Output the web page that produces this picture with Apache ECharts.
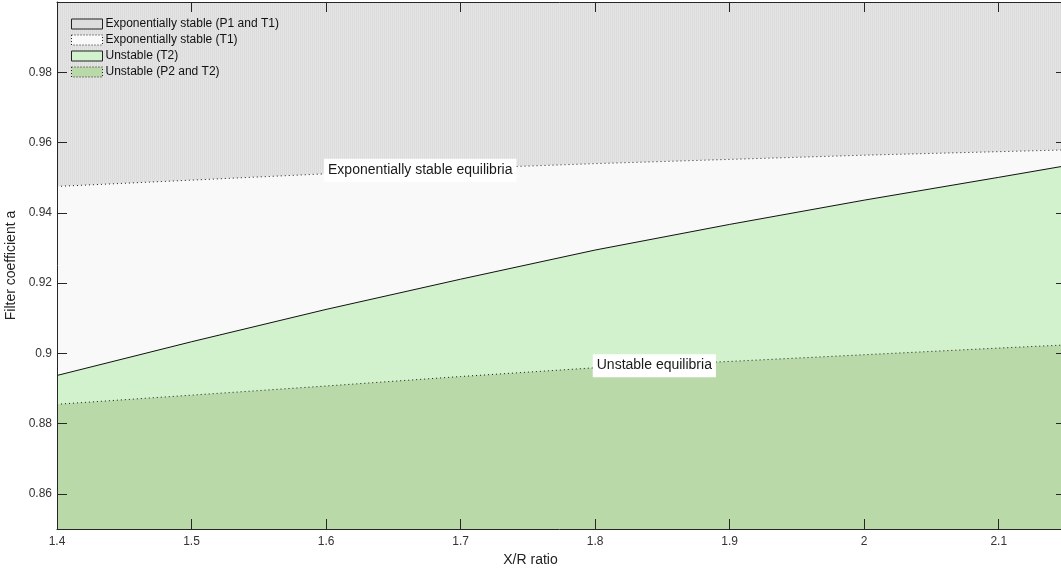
<!DOCTYPE html>
<html>
<head>
<meta charset="utf-8">
<script src="https://cdn.jsdelivr.net/npm/echarts@6/dist/echarts.min.js"></script>
<style>
html,body{margin:0;padding:0;background:#fff;}
#main{width:1061px;height:571px;}
</style>
</head>
<body>
<div id="main"></div>
<script>
// X/R ratio sample points
var xrRatio = [1.4, 1.5, 1.6, 1.7, 1.8, 1.9, 2.0, 2.1, 2.15];
// Upper dotted boundary (T1 exponential stability limit)
var boundaryT1 = [0.9475, 0.9493, 0.9511, 0.9526, 0.9540, 0.9552, 0.9564, 0.9574, 0.9579];
// Solid boundary (P1 / T2)
var boundaryP1 = [0.8937, 0.9033, 0.9125, 0.9211, 0.9294, 0.9367, 0.9436, 0.9501, 0.9534];
// Lower dotted boundary (P2 and T2)
var boundaryP2 = [0.8855, 0.8881, 0.8907, 0.8934, 0.8959, 0.8977, 0.8996, 0.9015, 0.9024];

var legendNames = ['Exponentially stable (P1 and T1)', 'Exponentially stable (T1)', 'Unstable (T2)', 'Unstable (P2 and T2)'];
var annotationTexts = ['Exponentially stable equilibria', 'Unstable equilibria'];
var annotationX = [1.670, 1.844];
var annotationY = [0.9521, 0.8965];

var xTicks = [1.4, 1.5, 1.6, 1.7, 1.8, 1.9, 2.0, 2.1];
var yTicks = [0.86, 0.88, 0.90, 0.92, 0.94, 0.96, 0.98];

function pairs(ys) { return xrRatio.map(function (x, i) { return [x, ys[i]]; }); }

// hatch pattern for gray region
var pc = document.createElement('canvas');
pc.width = 2; pc.height = 4;
var pctx = pc.getContext('2d');
pctx.fillStyle = '#dcdcdc'; pctx.fillRect(0, 0, 2, 4);
pctx.fillStyle = '#e4e4e4'; pctx.fillRect(1, 0, 1, 4);
var grayPattern = { image: pc, repeat: 'repeat' };

var FONT = 'Liberation Sans, Arial, Helvetica, sans-serif';
var chart = echarts.init(document.getElementById('main'), null, { renderer: 'canvas' });

var C_GRAY = '#dddddd', C_WHITE = '#f9f9f9', C_LG = '#d2f1cd', C_DG = '#b9d9a8';
var AX = '#262626';

function annotation(i) {
  return {
    coord: [annotationX[i], annotationY[i]],
    symbol: 'rect', symbolSize: 0,
    label: {
      show: true, position: 'inside', formatter: annotationTexts[i],
      color: '#1a1a1a', fontFamily: FONT, fontSize: 14,
      backgroundColor: '#ffffff', padding: [5, 4, 4, 4]
    }
  };
}

function fmt(v) { return String(Math.round(v * 100) / 100); }

var option = {
  animation: false,
  backgroundColor: '#ffffff',
  textStyle: { fontFamily: FONT },
  grid: { left: 57, right: -5, top: 2, bottom: 42, containLabel: false, outerBoundsMode: 'none' },
  legend: {
    orient: 'vertical', left: 66, top: 13,
    itemWidth: 31, itemHeight: 10, itemGap: 4,
    icon: 'rect',
    textStyle: { fontFamily: FONT, fontSize: 12, color: '#111', padding: [0, 0, 0, -2] },
    data: [
      { name: legendNames[0], itemStyle: { color: C_GRAY, borderColor: '#222', borderWidth: 1, borderType: 'solid' } },
      { name: legendNames[1], itemStyle: { color: C_WHITE, borderColor: '#222', borderWidth: 1, borderType: [1, 2] } },
      { name: legendNames[2], itemStyle: { color: C_LG, borderColor: '#222', borderWidth: 1, borderType: 'solid' } },
      { name: legendNames[3], itemStyle: { color: C_DG, borderColor: '#222', borderWidth: 1, borderType: [1, 2] } }
    ]
  },
  xAxis: [{
    type: 'value', min: 1.4, max: 2.15, position: 'bottom', z: 10,
    name: 'X/R ratio', nameLocation: 'middle', nameGap: 24,
    nameTextStyle: { fontFamily: FONT, fontSize: 14, color: '#222', padding: [0, 62, 0, 0] },
    axisLine: { show: true, onZero: false, lineStyle: { color: AX, width: 1 } },
    axisTick: { show: true, inside: true, length: 10, customValues: xTicks, lineStyle: { color: AX } },
    axisLabel: { fontFamily: FONT, fontSize: 12, color: '#333', margin: 7, customValues: xTicks, formatter: fmt },
    splitLine: { show: false }
  }, {
    type: 'value', min: 1.4, max: 2.15, position: 'top', z: 10,
    axisLine: { show: true, onZero: false, lineStyle: { color: AX, width: 1 } },
    axisTick: { show: true, inside: true, length: 10, customValues: xTicks, lineStyle: { color: AX } },
    axisLabel: { show: false }, splitLine: { show: false }
  }],
  yAxis: [{
    type: 'value', min: 0.85, max: 1.0, position: 'left', z: 10,
    name: 'Filter coefficient a', nameLocation: 'middle', nameGap: 36,
    nameTextStyle: { fontFamily: FONT, fontSize: 14, color: '#222' },
    axisLine: { show: true, onZero: false, lineStyle: { color: AX, width: 1 } },
    axisTick: { show: true, inside: true, length: 10, customValues: yTicks, lineStyle: { color: AX } },
    axisLabel: { fontFamily: FONT, fontSize: 12, color: '#333', margin: 5, customValues: yTicks, formatter: fmt },
    splitLine: { show: false }
  }, {
    type: 'value', min: 0.85, max: 1.0, position: 'right', z: 10,
    axisLine: { show: true, onZero: false, lineStyle: { color: AX, width: 1 } },
    axisTick: { show: true, inside: true, length: 10, customValues: yTicks, lineStyle: { color: AX } },
    axisLabel: { show: false }, splitLine: { show: false }
  }],
  series: [
    {
      name: legendNames[0], type: 'line', data: pairs(boundaryT1), symbol: 'none',
      lineStyle: { width: 0 }, itemStyle: { color: C_GRAY },
      areaStyle: { origin: 'end', color: grayPattern, opacity: 1 }, z: 1
    },
    {
      name: legendNames[1], type: 'line', data: pairs(boundaryT1), symbol: 'none',
      lineStyle: { width: 1, type: [1, 3], color: '#1a1a1a' }, itemStyle: { color: C_WHITE },
      areaStyle: { origin: 'start', color: C_WHITE, opacity: 1 }, z: 1,
      markPoint: { silent: true, data: [annotation(0)] }
    },
    {
      name: legendNames[2], type: 'line', data: pairs(boundaryP1), symbol: 'none',
      lineStyle: { width: 1, color: '#111' }, itemStyle: { color: C_LG },
      areaStyle: { origin: 'start', color: C_LG, opacity: 1 }, z: 1
    },
    {
      name: legendNames[3], type: 'line', data: pairs(boundaryP2), symbol: 'none',
      lineStyle: { width: 1, type: [1, 3], color: '#1a1a1a' }, itemStyle: { color: C_DG },
      areaStyle: { origin: 'start', color: C_DG, opacity: 1 }, z: 1,
      markPoint: { silent: true, data: [annotation(1)] }
    }
  ]
};
chart.setOption(option);
</script>
</body>
</html>
